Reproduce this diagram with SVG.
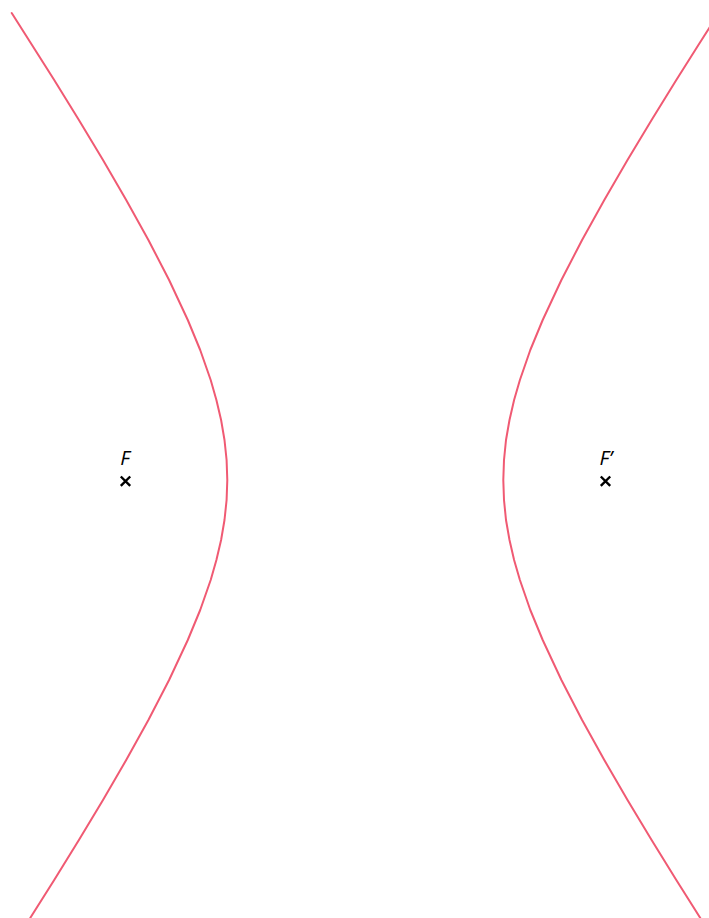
<svg xmlns="http://www.w3.org/2000/svg" width="709" height="918" viewBox="0 0 709 918">
<style>
.curve{fill:none;stroke:#f05a73;stroke-width:2;stroke-linejoin:round;stroke-linecap:round}
.cross{stroke:#000;stroke-width:2.4;stroke-linecap:butt}
.lbl{font-family:"Open Sans","DejaVu Sans",sans-serif;font-style:italic;font-size:20px;fill:#000;text-anchor:middle}
</style>
<rect width="709" height="918" fill="#fff"/>
<g id="branch-left">
<polyline class="curve" points="11.7,13 54.2,80 78.9,120 103,160 126.2,200 148.4,240 169.1,280 187.8,320 200.2,350 210.7,380 216.4,400 221.1,420 224.5,440 226.6,460 227.3,480 226.6,500 224.5,520 221.1,540 216.4,560 210.7,580 200.2,610 187.8,640 169.1,680 148.4,720 126.2,760 103,800 78.9,840 54.2,880 30.2,918"/>
</g>
<g id="branch-right">
<polyline class="curve" points="727.1,0 718.8,13 700.3,42 676.3,80 651.6,120 627.5,160 604.3,200 582.1,240 561.4,280 542.7,320 530.3,350 519.9,380 514.1,400 509.5,420 506,440 504,460 503.3,480 504,500 506,520 509.5,540 514.1,560 519.9,580 530.3,610 542.7,640 561.4,680 582.1,720 604.3,760 627.5,800 651.6,840 676.3,880 700.3,918"/>
</g>
<g id="focus-F">
<path class="cross" d="M120.8,476.5 L130.2,485.9 M130.2,476.5 L120.8,485.9"/>
<text class="lbl" x="125" y="465">F</text>
</g>
<g id="focus-F-prime">
<path class="cross" d="M600.8,476.5 L610.2,485.9 M610.2,476.5 L600.8,485.9"/>
<text class="lbl" x="606" y="465">F’</text>
</g>
</svg>
